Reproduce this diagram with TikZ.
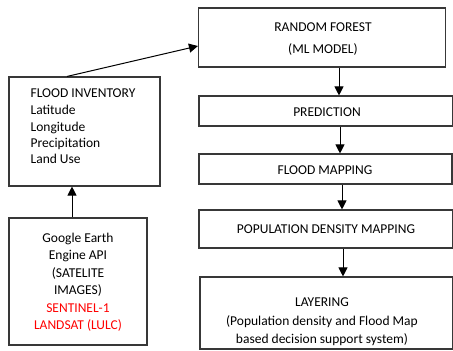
\documentclass[tikz,border=0pt]{standalone}
\usepackage{fontspec}
\setmainfont{Carlito}
\usetikzlibrary{arrows.meta}
\definecolor{edge}{gray}{0.22}
\tikzset{
  box/.style={draw=edge, line width=1.1pt, rectangle, inner sep=0pt},
  lbl/.style={font=\fontsize{13.5}{16}\selectfont, align=center, inner sep=0pt},
  arr/.style={draw=black, line width=1pt, -{Triangle[length=9pt,width=9pt]}},
}
\begin{document}
\begin{tikzpicture}[x=1pt,y=-1pt]
  \useasboundingbox (0,0) rectangle (453,351);
  % boxes of the processing chain
  \node[box, minimum width=247pt, minimum height=59pt] (rf) at (322,37.5) {};
  \node[box, minimum width=254pt, minimum height=30pt] (pred) at (326,111) {};
  \node[box, minimum width=253pt, minimum height=30pt] (fm) at (325.5,169) {};
  \node[box, minimum width=254pt, minimum height=38pt] (pd) at (326,229) {};
  \node[box, minimum width=253pt, minimum height=72pt] (lay) at (326.5,313) {};
  % input boxes
  \node[box, minimum width=151pt, minimum height=109pt] (fi) at (84.5,131.5) {};
  \node[box, minimum width=138pt, minimum height=127pt] (ge) at (78,281.5) {};
  % labels
  \node[lbl] (rft) at (323,39) {RANDOM FOREST\\[6pt](ML MODEL)};
  \node[lbl] (predt) at (327,112) {PREDICTION};
  \node[lbl] (fmt) at (325,170) {FLOOD MAPPING};
  \node[lbl] (pdt) at (326,229) {POPULATION DENSITY MAPPING};
  \node[lbl] (layt) at (322,322) {LAYERING\\[3pt](Population density and  Flood Map\\[2pt]based decision support system)};
  \node[lbl, align=left] (fit) at (83,126) {FLOOD INVENTORY\\[1pt]Latitude\\[1pt]Longitude\\Precipitation\\Land Use};
  \node[lbl] (get) at (78,282) {Google Earth\\[1.5pt]Engine API\\[1.5pt](SATELITE\\[1.5pt]IMAGES)\\[1.5pt]\textcolor{red}{SENTINEL-1}\\[1.5pt]\textcolor{red}{LANDSAT (LULC)}};
  % connector anchors
  \coordinate (c1) at (339,0);
  \coordinate (c2) at (340,0);
  \coordinate (c3) at (342,0);
  \coordinate (c4) at (343,0);
  \coordinate (c5) at (72,0);
  \coordinate (c6) at (67,0);
  \coordinate (c7) at (0,46);
  % connectors
  \draw[arr] (rf.south -| c1) -- (pred.north -| c1);
  \draw[arr] (pred.south -| c2) -- (fm.north -| c2);
  \draw[arr] (fm.south -| c3) -- (pd.north -| c3);
  \draw[arr] (pd.south -| c4) -- (lay.north -| c4);
  \draw[arr] (ge.north -| c5) -- (fi.south -| c5);
  \draw[arr] (fi.north -| c6) -- (rf.west |- c7);
\end{tikzpicture}
\end{document}
